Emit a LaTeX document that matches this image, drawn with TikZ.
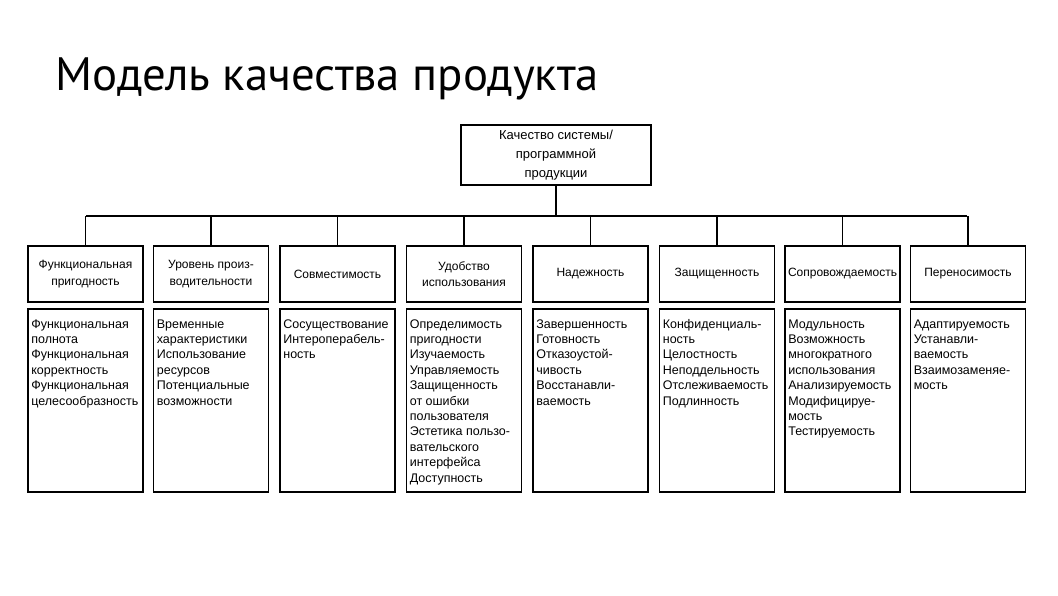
\documentclass[tikz,border=0pt]{standalone}
\usepackage{fontspec}
\setmainfont{Liberation Sans}
\newfontfamily\titlefont{PT Sans}
\newcommand{\dlines}[1]{\parbox[t]{112pt}{\raggedright\fontsize{12.5}{15.4}\selectfont #1}}
\begin{document}
\begin{tikzpicture}[x=1pt,y=-1pt,
  every node/.style={inner sep=0pt},
  ln/.style={line width=1.7pt},
  topbox/.style={draw,line width=1.7pt,minimum width=190pt,minimum height=60pt,align=center,font=\fontsize{13}{19}\selectfont},
  hbox/.style={draw,line width=1.7pt,minimum width=115pt,minimum height=56pt,align=center,font=\fontsize{12}{16.5}\selectfont},
  dbox/.style={draw,line width=1.7pt,minimum width=115pt,minimum height=183pt},
  dtext/.style={anchor=base west}
]
\useasboundingbox (0,0) rectangle (1058,595);
\node[anchor=base west,font=\titlefont\fontsize{46.8}{56}\selectfont] (title) at (55,90) {Модель качества продукта};

\node[topbox] (top) at (556,155) {Качество системы/\\программной\\продукции};
\coordinate (busL) at (86,216);
\coordinate (busR) at (967,216);

\foreach \i/\cx in {1/85.5,2/211,3/337.5,4/464,5/590.5,6/717,7/842.5,8/968}{
  \node[dbox] (d\i) at (\cx,400.5) {};
}
\node[hbox] (h1) at (85.5,274) {Функциональная\\пригодность};
\node[hbox] (h2) at (211,274) {Уровень произ-\\водительности};
\node[hbox] (h3) at (337.5,274) {Совместимость};
\node[hbox] (h4) at (464,274) {Удобство\\использования};
\node[hbox] (h5) at (590.5,274) {Надежность};
\node[hbox] (h6) at (717,274) {Защищенность};
\node[hbox] (h7) at (842.5,274) {Сопровождаемость};
\node[hbox] (h8) at (968,274) {Переносимость};

\draw[ln] (top.south) -- (top.south |- busL);
\draw[ln] (busL) -- (busR);
\foreach \i in {1,...,8}{
  \draw[ln] (h\i.north) -- (h\i.north |- busL);
}

\node[dtext] (t1) at ([shift={(4,20)}]d1.north west) {\dlines{Функциональная\\полнота\\Функциональная\\корректность\\Функциональная\\целесообразность}};
\node[dtext] (t2) at ([shift={(4,20)}]d2.north west) {\dlines{Временные\\характеристики\\Использование\\ресурсов\\Потенциальные\\возможности}};
\node[dtext] (t3) at ([shift={(4,20)}]d3.north west) {\dlines{Сосуществование\\Интероперабель-\\ность}};
\node[dtext] (t4) at ([shift={(4,20)}]d4.north west) {\dlines{Определимость\\пригодности\\Изучаемость\\Управляемость\\Защищенность\\от ошибки\\пользователя\\Эстетика пользо-\\вательского\\интерфейса\\Доступность}};
\node[dtext] (t5) at ([shift={(4,20)}]d5.north west) {\dlines{Завершенность\\Готовность\\Отказоустой-\\чивость\\Восстанавли-\\ваемость}};
\node[dtext] (t6) at ([shift={(4,20)}]d6.north west) {\dlines{Конфиденциаль-\\ность\\Целостность\\Неподдельность\\Отслеживаемость\\Подлинность}};
\node[dtext] (t7) at ([shift={(4,20)}]d7.north west) {\dlines{Модульность\\Возможность\\многократного\\использования\\Анализируемость\\Модифицируе-\\мость\\Тестируемость}};
\node[dtext] (t8) at ([shift={(4,20)}]d8.north west) {\dlines{Адаптируемость\\Устанавли-\\ваемость\\Взаимозаменяе-\\мость}};
\end{tikzpicture}
\end{document}
